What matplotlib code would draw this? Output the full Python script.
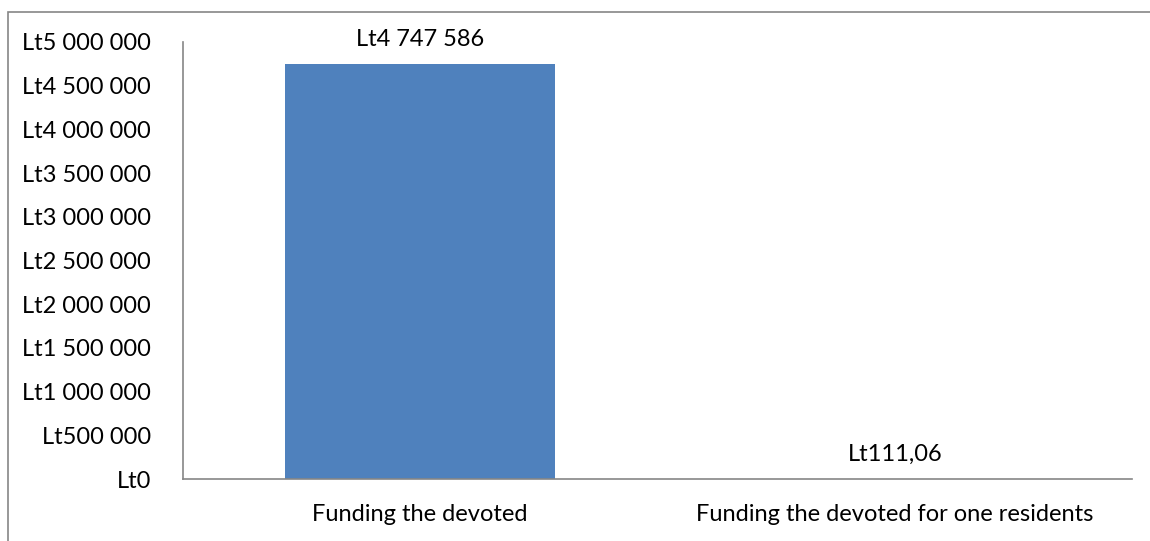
import matplotlib.pyplot as plt
from matplotlib.patches import Rectangle
from matplotlib.ticker import FuncFormatter

categories = ["Funding the devoted", "Funding the devoted for one residents"]
values = [4747586, 111.06]
value_labels = ["Lt4 747 586", "Lt111,06"]
yticks = [0, 500000, 1000000, 1500000, 2000000, 2500000,
          3000000, 3500000, 4000000, 4500000, 5000000]

plt.rcParams['font.family'] = ['Lato', 'DejaVu Sans']
FS = 17

W, H = 1150, 541
fig = plt.figure(figsize=(W / 100, H / 100), dpi=100)
ax = fig.add_axes([183 / W, 1 - 479 / H, (1132 - 183) / W, (479 - 42) / H])

# outer chart frame (runs off the right and bottom edges)
fig.patches.append(Rectangle((8 / W, -0.2), 1.2, 1.2 - 12 / H, transform=fig.transFigure,
                             fill=False, edgecolor="#868686", linewidth=1.2))

x = range(len(categories))
ax.bar(x, values, width=0.57, color="#4f81bd")
ax.set_xlim(-0.5, 1.5)
ax.set_ylim(0, 5000000)

for xi, v, lab in zip(x, values, value_labels):
    ax.annotate(lab, (xi, v), xytext=(0, 17.5), textcoords="offset points",
                ha="center", va="center", fontsize=FS)

def fmt(v, pos):
    return "Lt" + f"{int(v):,}".replace(",", " ")

ax.set_yticks(yticks)
ax.yaxis.set_major_formatter(FuncFormatter(fmt))
ax.set_xticks(list(x))
ax.set_xticklabels(categories)
ax.tick_params(axis="y", length=0, pad=23, labelsize=FS)
ax.tick_params(axis="x", length=0, pad=18, labelsize=FS)

for s in ("top", "right"):
    ax.spines[s].set_visible(False)
for s in ("left", "bottom"):
    ax.spines[s].set_color("#868686")
    ax.spines[s].set_linewidth(1.2)

fig.savefig("out.png", dpi=100)
